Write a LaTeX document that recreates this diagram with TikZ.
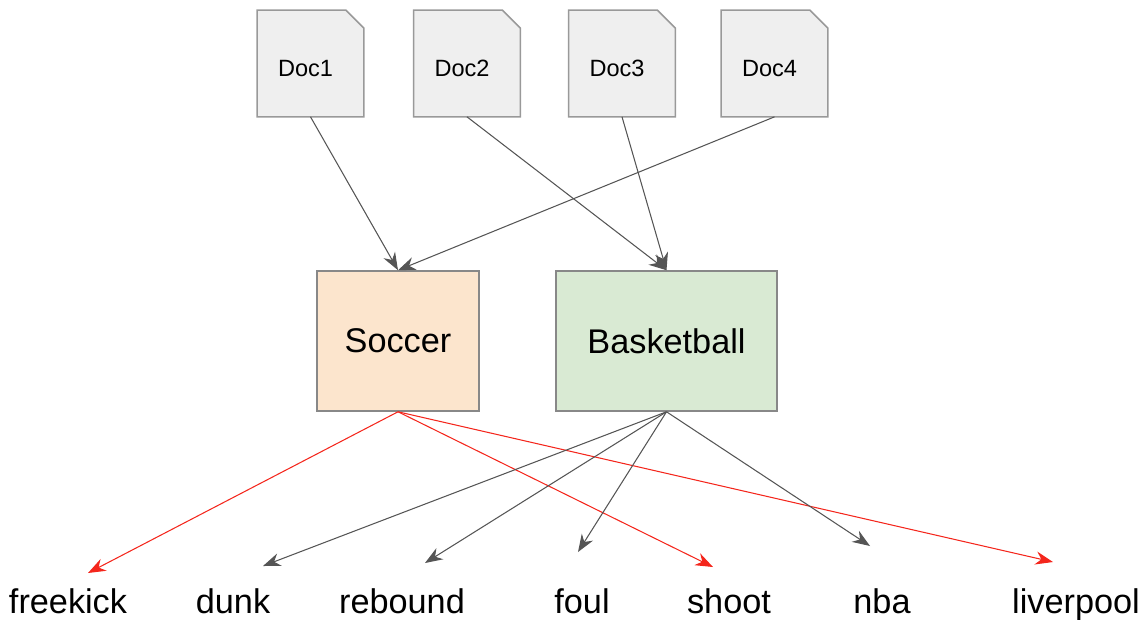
\documentclass[tikz,border=0pt]{standalone}
\usepackage{fontspec}
\setmainfont{Liberation Sans}
\usetikzlibrary{arrows.meta}

\begin{document}
\begin{tikzpicture}[x=0.02cm, y=-0.02cm]
    % Define colours
    \definecolor{docFill}{HTML}{EFEFEF}
    \definecolor{docBorder}{HTML}{999999}
    \definecolor{soccerFill}{HTML}{FCE5CD}
    \definecolor{basketFill}{HTML}{D9EAD3}
    \definecolor{boxBorder}{HTML}{888888}
    \definecolor{edgeGrey}{HTML}{555555}
    \definecolor{edgeRed}{HTML}{F4261C}

    % Define styles
    \tikzset{
        docnode/.style={minimum width=2.12cm, minimum height=2.12cm, inner sep=0pt, font=\fontsize{13.4}{15}\selectfont},
        topicbox/.style={draw=boxBorder, line width=0.9pt, inner sep=0pt, font=\fontsize{19.5}{22}\selectfont},
        wordnode/.style={anchor=base, inner sep=0pt, font=\fontsize{19.5}{22}\selectfont},
        greyedge/.style={edgeGrey, line width=0.6pt, -{Stealth[length=10pt, width=7.5pt]}},
        rededge/.style={edgeRed, line width=0.6pt, -{Stealth[length=10pt, width=7.5pt]}}
    }

    \useasboundingbox (0,0) rectangle (1148,619);

    % Draw documents
    \foreach \name/\x in {1/310.5, 2/467, 3/622, 4/774.5}{
        \node[docnode] (doc\name) at (\x,63.5) {};
        \filldraw[fill=docFill, draw=docBorder, line width=0.9pt]
            (doc\name.south west) -- (doc\name.north west)
            -- ([xshift=-0.36cm]doc\name.north east) -- ([yshift=-0.36cm]doc\name.north east)
            -- (doc\name.south east) -- cycle;
        \node[font=\fontsize{13.4}{15}\selectfont] at ([xshift=-0.1cm, yshift=-0.1cm]doc\name.center) {Doc\name};
    }

    % Draw topics
    \node[topicbox, fill=soccerFill, minimum width=3.24cm, minimum height=2.8cm] (soccer) at (398,341) {Soccer};
    \node[topicbox, fill=basketFill, minimum width=4.42cm, minimum height=2.8cm] (basketball) at (666.5,341) {Basketball};

    % Draw words
    \foreach \word/\x in {freekick/68, dunk/233, rebound/402, foul/582, shoot/729, nba/882, liverpool/1076}
        \node[wordnode] (\word) at (\x,613) {\word};

    % Arrow tips above the words
    \coordinate (freekickTip) at (88,573);
    \coordinate (dunkTip) at (263,566);
    \coordinate (reboundTip) at (425,563);
    \coordinate (foulTip) at (578,552);
    \coordinate (shootTip) at (713,567);
    \coordinate (nbaTip) at (870,546);
    \coordinate (liverpoolTip) at (1053,562);

    % Documents to topics
    \draw[greyedge] (doc1.south) -- (soccer.north);
    \draw[greyedge] (doc4.south) -- (soccer.north);
    \draw[greyedge] (doc2.south) -- (basketball.north);
    \draw[greyedge] (doc3.south) -- (basketball.north);

    % Topics to words
    \foreach \word in {freekick, shoot, liverpool}
        \draw[rededge] (soccer.south) -- (\word Tip);
    \foreach \word in {dunk, rebound, foul, nba}
        \draw[greyedge] (basketball.south) -- (\word Tip);

\end{tikzpicture}
\end{document}
